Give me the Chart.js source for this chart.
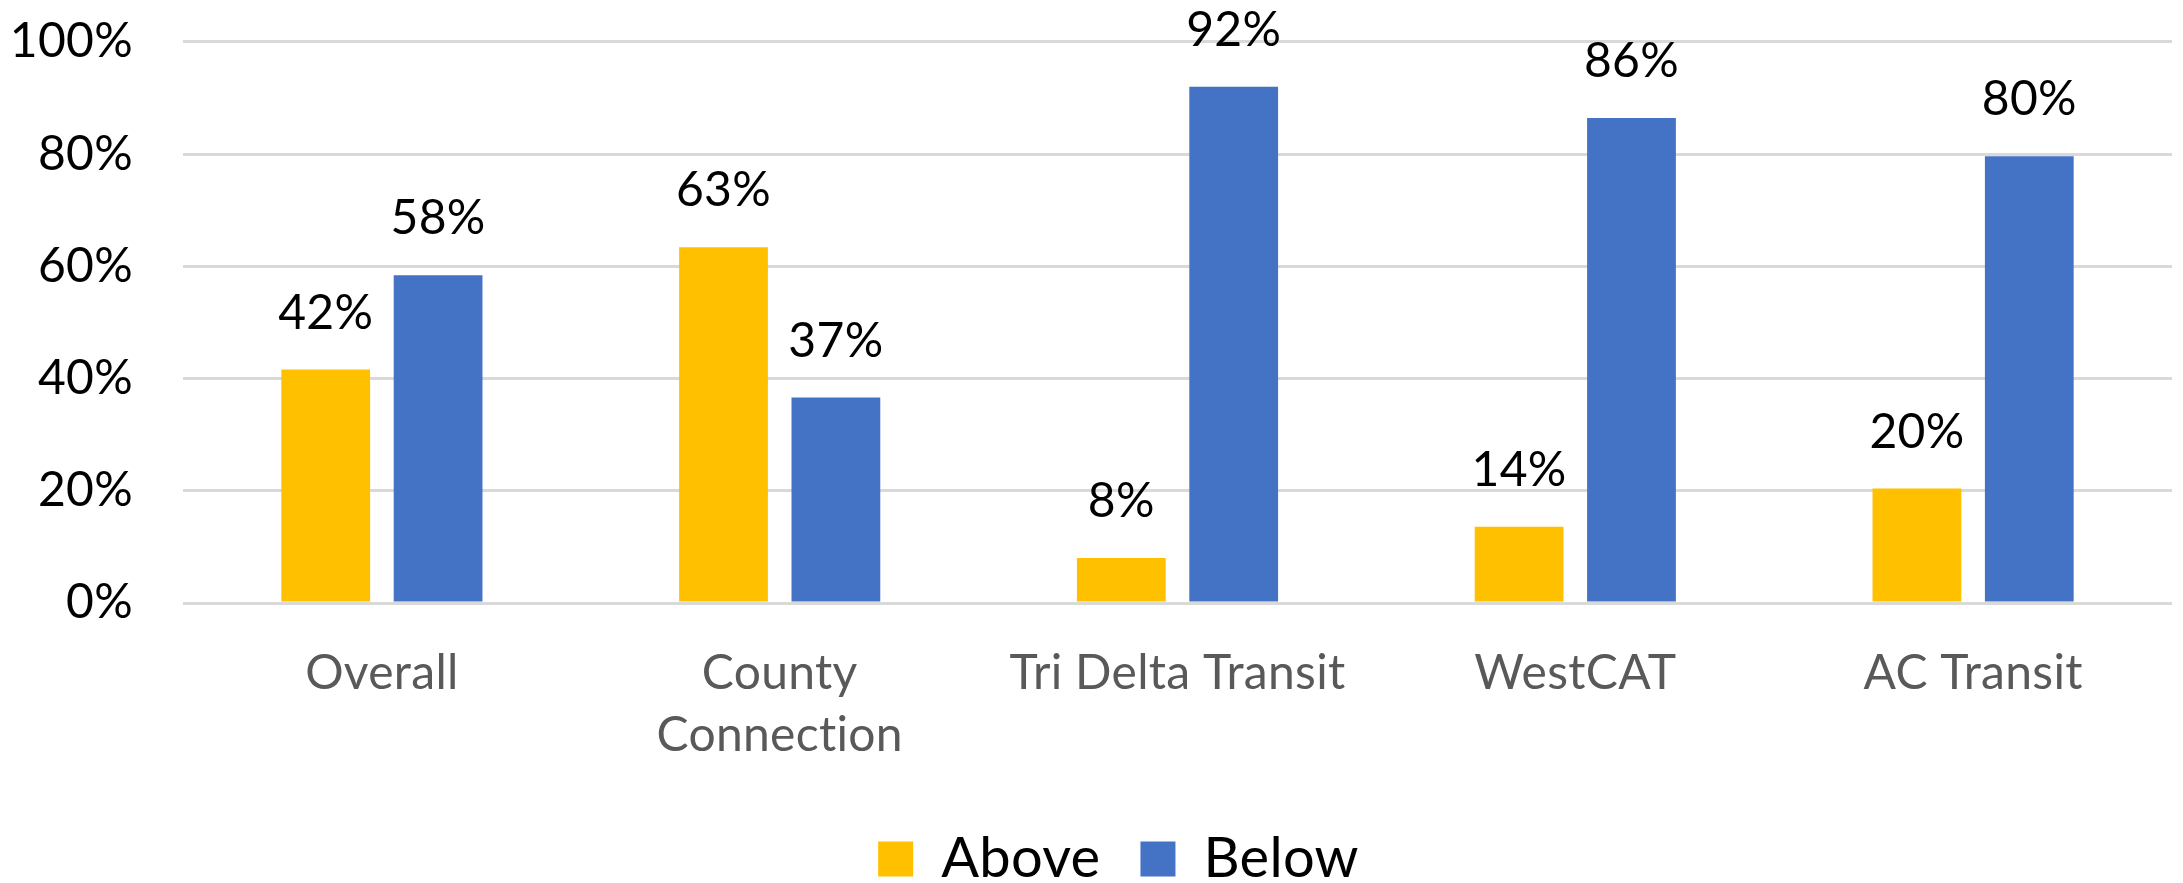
<!DOCTYPE html>
<html>
<head>
<meta charset="utf-8">
<script src="https://cdn.jsdelivr.net/npm/chart.js@4.4.1/dist/chart.umd.min.js"></script>
<style>
  html, body { margin: 0; padding: 0; background: #fff; }
  canvas { display: block; }
</style>
</head>
<body>
<canvas id="chart" width="2183" height="883"></canvas>
<script>
        const categories = ['Overall', ['County', 'Connection'], 'Tri Delta Transit', 'WestCAT', 'AC Transit'];
        const aboveValues = [41.6, 63.4, 8.0, 13.6, 20.4];
        const belowValues = [58.4, 36.6, 92.0, 86.4, 79.6];
        const yTicks = [0, 20, 40, 60, 80, 100];

        // percentage labels over each bar, placed from the bar element the scale computed
        const valueLabels = {
            id: 'valueLabels',
            afterLayout(chart) {
                // legend sits a bit right of centre in the original
                chart.legend.left += 62;
            },
            beforeDraw(chart) {
                // small spacing keeps Lato from joining "ti" into a ligature
                chart.ctx.letterSpacing = '0.3px';
            },
            afterDatasetsDraw(chart) {
                const ctx = chart.ctx;
                ctx.save();
                ctx.font = '48px Lato';
                ctx.fillStyle = '#000000';
                ctx.textAlign = 'center';
                ctx.textBaseline = 'alphabetic';
                chart.data.datasets.forEach((ds, i) => {
                    chart.getDatasetMeta(i).data.forEach((bar, j) => {
                        ctx.fillText(Math.round(ds.data[j]) + '%', bar.x, bar.y - 41);
                    });
                });
                ctx.restore();
            }
        };

        function drawChart() {
            Chart.defaults.font.family = 'Lato';
            const ctx = document.getElementById('chart').getContext('2d');
            new Chart(ctx, {
                type: 'bar',
                data: {
                    labels: categories,
                    datasets: [{
                        label: 'Above',
                        data: aboveValues,
                        backgroundColor: '#FFC000',
                        categoryPercentage: 0.565,
                        barPercentage: 0.79
                    }, {
                        label: 'Below',
                        data: belowValues,
                        backgroundColor: '#4472C4',
                        categoryPercentage: 0.565,
                        barPercentage: 0.79
                    }]
                },
                options: {
                    responsive: false,
                    animation: false,
                    layout: {
                        padding: { top: 0, right: 11, bottom: -14, left: 0 }
                    },
                    scales: {
                        x: {
                            grid: { display: false },
                            border: { display: false },
                            ticks: {
                                color: '#595959',
                                font: { size: 48, lineHeight: 1.3 },
                                padding: 31,
                                maxRotation: 0,
                                autoSkip: false
                            },
                            afterFit(scale) { scale.height = 188; }
                        },
                        y: {
                            min: 0,
                            max: 100,
                            afterBuildTicks(scale) {
                                scale.ticks = yTicks.map(v => ({ value: v }));
                            },
                            grid: {
                                color: '#D9D9D9',
                                lineWidth: 3,
                                drawTicks: true,
                                tickLength: 37,
                                tickColor: 'rgba(0,0,0,0)'
                            },
                            border: { display: false },
                            ticks: {
                                color: '#000000',
                                font: { size: 48 },
                                padding: 13,
                                callback: v => v + '%'
                            },
                            afterFit(scale) { scale.width = 183; }
                        }
                    },
                    plugins: {
                        legend: {
                            position: 'bottom',
                            labels: {
                                color: '#000000',
                                font: { size: 56 },
                                boxWidth: 35,
                                boxHeight: 35,
                                padding: 40
                            }
                        },
                        tooltip: { enabled: false }
                    }
                },
                plugins: [valueLabels]
            });
        }

        document.fonts.load('48px Lato').then(drawChart, drawChart);
</script>
</body>
</html>
